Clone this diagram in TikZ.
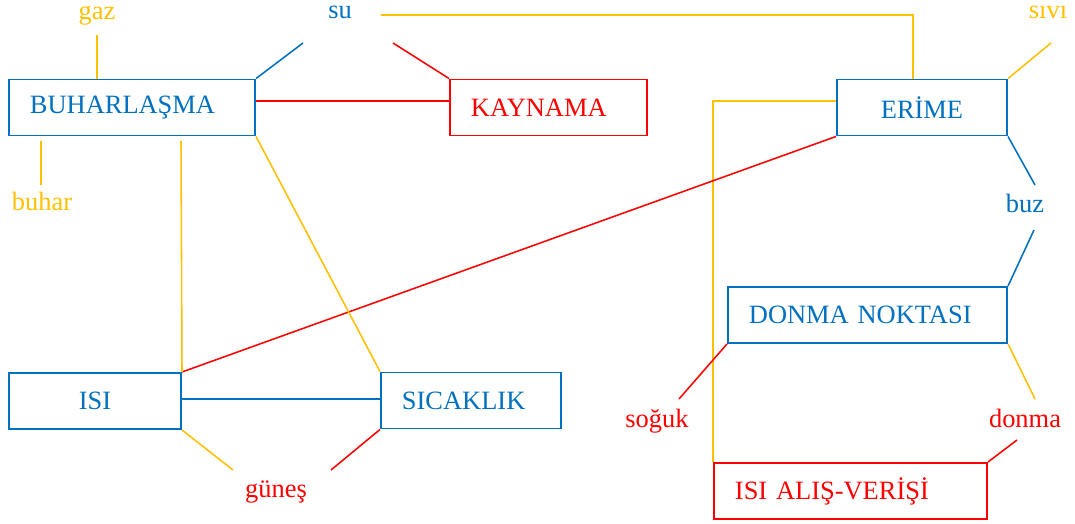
\documentclass[tikz,border=0pt]{standalone}
\usepackage{fontspec}
\setmainfont{Liberation Serif}
\usetikzlibrary{positioning}

\definecolor{mavi}{RGB}{0,112,192}
\definecolor{sari}{RGB}{255,192,0}
\definecolor{kirmizi}{RGB}{255,0,0}

\begin{document}
\begin{tikzpicture}[x=0.025cm,y=-0.025cm,line width=1.1pt,
    font=\fontsize{18.8}{22}\selectfont,
    kutu/.style={draw=#1,text=#1,line width=1.4pt,minimum height=1.4cm,inner xsep=0.525cm,align=left},
    etiket/.style={text=#1,anchor=base}]
        \useasboundingbox (0,0) rectangle (1075,524);
        % kavram kutulari
        \node[kutu=mavi,text width=5.1cm] (buharlasma) at (132,107.5) {BUHARLAŞMA};
        \node[kutu=kirmizi,text width=3.875cm] (kaynama) at (548.5,107.5) {KAYNAMA};
        \node[kutu=mavi,text width=3.2cm,align=center] (erime) at (922,107.5) {ERİME};
        \node[kutu=mavi,text width=3.25cm,align=center] (isi) at (95,401) {ISI};
        \node[kutu=mavi,text width=3.45cm] (sicaklik) at (471,400.5) {SICAKLIK};
        \node[kutu=mavi,text width=5.925cm] (donmanok) at (867.5,315) {DONMA NOKTASI};
        \node[kutu=kirmizi,text width=5.775cm] (alisveris) at (850.5,491) {ISI ALIŞ-VERİŞİ};
        % baglanti sozcukleri
        \node[etiket=sari] (gaz) at (97,20) {gaz};
        \node[etiket=mavi] (su) at (340,19) {su};
        \node[etiket=sari] (sivi) at (1048,19) {sıvı};
        \node[etiket=sari] (buhar) at (42,211) {buhar};
        \node[etiket=mavi] (buz) at (1025,212) {buz};
        \node[etiket=kirmizi] (gunes) at (276,497) {güneş};
        \node[etiket=kirmizi] (soguk) at (657,427) {soğuk};
        \node[etiket=kirmizi] (donma) at (1025,427) {donma};
        % cizgilerin bos uclari
        \coordinate (gz) at (97,35);
        \coordinate (bh1) at (41,141);
        \coordinate (bh2) at (41,185);
        \coordinate (su1) at (303,43);
        \coordinate (su2) at (393,43);
        \coordinate (su3) at (381,15);
        \coordinate (sv) at (1051,43);
        \coordinate (bz1) at (1035,185);
        \coordinate (bz2) at (1034,230);
        \coordinate (bi) at (181,141);
        \coordinate (g1) at (233,470);
        \coordinate (g2) at (331,470);
        \coordinate (sg) at (679,399);
        \coordinate (d1) at (1035,399);
        \coordinate (d2) at (1017,440);

        \draw[sari] (gz) -- (gz |- buharlasma.north);
        \draw[sari] (bh1) -- (bh2);
        \draw[mavi] (su1) -- (buharlasma.north east);
        \draw[kirmizi] (su2) -- (kaynama.north west);
        \draw[kirmizi] ([yshift=1.6mm]buharlasma.east) -- ([yshift=1.6mm]kaynama.west);
        \draw[sari] (su3) -| ([xshift=-2.2mm]erime.north);
        \draw[sari] ([yshift=1.6mm]erime.west) -| (alisveris.north west);
        \draw[sari] (sv) -- (erime.north east);
        \draw[mavi] (erime.south east) -- (bz1);
        \draw[mavi] (bz2) -- (donmanok.north east);
        \draw[kirmizi] (erime.south west) -- (isi.north east);
        \draw[sari] (bi) -- (isi.north east);
        \draw[sari] (buharlasma.south east) -- (sicaklik.north west);
        \draw[mavi] ([yshift=0.05cm]isi.east) -- ([yshift=0.05cm]isi.east -| sicaklik.west);
        \draw[sari] (isi.south east) -- (g1);
        \draw[kirmizi] (sicaklik.south west) -- (g2);
        \draw[kirmizi] (donmanok.south west) -- (sg);
        \draw[sari] (donmanok.south east) -- (d1);
        \draw[kirmizi] (d2) -- (alisveris.north east);
    \end{tikzpicture}
\end{document}
